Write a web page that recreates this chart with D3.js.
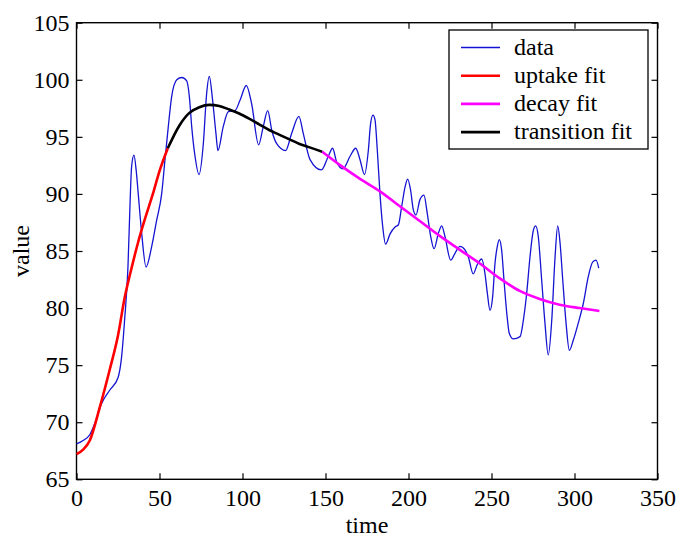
<!DOCTYPE html>
<html>
<head>
<meta charset="utf-8">
<script src="https://cdn.jsdelivr.net/npm/d3@7"></script>
<style>
  body { margin: 0; background: #fff; }
  text { font-family: "Liberation Serif", "Times New Roman", serif; }
</style>
</head>
<body>
<div id="chart"></div>
<script>
const dataTime = [0, 4, 8, 12, 15, 20, 25, 27, 29, 31, 32.2, 33.2, 34.6, 36, 37.2, 39.3, 41.9, 45.3, 48.3, 51.3,
  53.3, 55.3, 57.3, 60.4, 63.4, 66.4, 68, 69.4, 71.4, 73.8, 76.4, 78.4, 80, 82, 84, 85.2, 88.4, 91.5, 95.5, 98.5,
  102.3, 105.5, 109.7, 112.5, 115.2, 117.6, 120.6, 126, 129.6, 134, 136.6, 140.7, 147.5, 151.7, 154.3, 156.7,
  160.5, 164.8, 168.2, 170.8, 173.5, 175.8, 177.2, 178.6, 179.8, 181.2, 182.8, 184.5, 186.2, 188.9, 191.9,
  193.9, 195.9, 197.9, 199.5, 201.3, 202.9, 204.5, 206.9, 209.3, 211.3, 213.4, 215.4, 218, 220, 222, 225.4,
  228, 231, 234, 236, 239, 241.4, 244.1, 246.1, 247.5, 249.1, 250.7, 252.1, 253.5, 254.7, 256.1, 257.5, 259.2,
  260.7, 263.1, 267.2, 269.2, 271.2, 273.2, 275.2, 276.6, 278.2, 280.2, 282.2, 284.2, 286.3, 288.3, 289.9,
  291.3, 292.9, 294.9, 296.9, 299.3, 302.3, 305.3, 308.3, 311, 313, 314.6]
const dataValue = [68.1, 68.4, 68.9, 70.3, 71.6, 72.8, 73.9, 75.5, 79.0, 83.6, 88.9, 92.4, 93.4, 92.0, 90.0, 86.5,
  83.6, 85.4, 87.7, 90.0, 93.0, 95.9, 98.5, 100.0, 100.2, 99.9, 98.5, 95.9, 93.3, 91.7, 94.4, 98.8, 100.3, 98.2,
  95.3, 93.8, 95.9, 97.2, 97.3, 98.2, 99.5, 97.9, 94.3, 95.9, 97.3, 95.6, 94.4, 93.8, 95.3, 96.8, 95.3, 93.0,
  92.1, 93.3, 94.0, 92.8, 92.2, 93.3, 94.0, 93.0, 91.7, 93.8, 96.2, 96.9, 96.5, 93.85, 90.05, 87.1, 85.6, 86.5,
  87.1, 87.3, 88.9, 90.6, 91.3, 90.3, 88.6, 88.15, 89.5, 89.9, 88.3, 86.25, 85.2, 86.55, 87.2, 86.25, 84.2,
  84.8, 85.4, 85.1, 84.5, 83.0, 83.8, 84.3, 83.0, 81.3, 79.8, 81.0, 83.9, 85.4, 86.0, 85.1, 82.5, 79.55, 77.8,
  77.3, 77.5, 78.95, 81.3, 84.5, 86.8, 87.2, 86.25, 82.5, 78.7, 75.9, 78.95, 84.5, 87.2, 85.7, 82.5, 78.7, 76.3,
  77.2, 78.7, 80.4, 82.75, 84.05, 84.2, 83.5]

// fitted curves
const uptakeTime = [0, 4, 8, 14, 20, 25, 29, 33, 37, 41, 46, 50, 55]
const uptakeValue = [67.2, 67.6, 68.4, 71.3, 74.6, 77.6, 80.9, 83.4, 85.7, 87.7, 90.0, 92.0, 94.0]
const transitionTime = [55, 62, 68, 74, 80, 86, 92, 98, 104, 110, 116, 122, 128, 134, 140, 148]
const transitionValue = [94.0, 96.0, 97.1, 97.6, 97.8, 97.7, 97.4, 97.05, 96.6, 96.1, 95.6, 95.2, 94.8, 94.4, 94.1, 93.7]
const decayTime = [148, 159, 171, 183, 195, 207, 219, 231, 243, 255, 267, 279, 291, 303, 315]
const decayValue = [93.7, 92.5, 91.3, 90.2, 88.9, 87.6, 86.3, 85.1, 83.9, 82.6, 81.5, 80.8, 80.3, 80.0, 79.75]

const xTicks = [0, 50, 100, 150, 200, 250, 300, 350]
const yTicks = [65, 70, 75, 80, 85, 90, 95, 100, 105]
const legendLabels = ['data', 'uptake fit', 'decay fit', 'transition fit']
const legendColors = ['#1414d2', '#ff0000', '#ff00ff', '#000000']

const width = 678
const height = 538
const margin = {left: 76.5, right: 20.5, top: 22.7, bottom: 58.7}
const innerW = width - margin.left - margin.right
const innerH = height - margin.top - margin.bottom

const svg = d3.select('#chart')
              .append('svg')
              .attr('width', width)
              .attr('height', height)

svg.append('rect')
   .attr('width', width)
   .attr('height', height)
   .attr('fill', '#fff')

const x = d3.scaleLinear().domain([0, 350]).range([margin.left, margin.left + innerW])
const y = d3.scaleLinear().domain([65, 105]).range([margin.top + innerH, margin.top])

const fontSize = '24px'

// axes with inward ticks, box on
svg.append('g')
   .attr('transform', `translate(0, ${margin.top + innerH})`)
   .call(d3.axisBottom(x).tickValues(xTicks).tickSizeInner(-6).tickSizeOuter(0).tickPadding(10))
   .call(g => g.select('.domain').remove())
   .selectAll('text').style('font-size', fontSize).attr('fill', '#000')

svg.append('g')
   .attr('transform', `translate(${margin.left}, 0)`)
   .call(d3.axisLeft(y).tickValues(yTicks).tickSizeInner(-6).tickSizeOuter(0).tickPadding(7))
   .call(g => g.select('.domain').remove())
   .selectAll('text').style('font-size', fontSize).attr('fill', '#000')

svg.append('g')
   .attr('transform', `translate(0, ${margin.top})`)
   .call(d3.axisTop(x).tickValues(xTicks).tickSizeInner(-6).tickSizeOuter(0).tickFormat(''))
   .call(g => g.select('.domain').remove())

svg.append('g')
   .attr('transform', `translate(${margin.left + innerW}, 0)`)
   .call(d3.axisRight(y).tickValues(yTicks).tickSizeInner(-6).tickSizeOuter(0).tickFormat(''))
   .call(g => g.select('.domain').remove())

svg.selectAll('.tick line').attr('stroke', '#000').attr('stroke-width', 1.2)

svg.append('rect')
   .attr('x', margin.left)
   .attr('y', margin.top)
   .attr('width', innerW)
   .attr('height', innerH)
   .attr('fill', 'none')
   .attr('stroke', '#000')
   .attr('stroke-width', 1.4)

// lines
const line = d3.line()
               .x(d => x(d[0]))
               .y(d => y(d[1]))
               .curve(d3.curveMonotoneX)

const zip = (ts, vs) => ts.map((t, i) => [t, vs[i]])

svg.append('path')
   .attr('d', line(zip(dataTime, dataValue)))
   .attr('fill', 'none')
   .attr('stroke', legendColors[0])
   .attr('stroke-width', 1.3)

svg.append('path')
   .attr('d', line(zip(uptakeTime, uptakeValue)))
   .attr('fill', 'none')
   .attr('stroke', legendColors[1])
   .attr('stroke-width', 2.6)

svg.append('path')
   .attr('d', line(zip(decayTime, decayValue)))
   .attr('fill', 'none')
   .attr('stroke', legendColors[2])
   .attr('stroke-width', 2.6)

svg.append('path')
   .attr('d', line(zip(transitionTime, transitionValue)))
   .attr('fill', 'none')
   .attr('stroke', legendColors[3])
   .attr('stroke-width', 2.6)

// axis titles
svg.append('text')
   .attr('x', (margin.left + margin.left + innerW) / 2)
   .attr('y', 533)
   .attr('text-anchor', 'middle')
   .style('font-size', fontSize)
   .text('time')

svg.append('text')
   .attr('transform', `translate(29, ${margin.top + innerH / 2}) rotate(-90)`)
   .attr('text-anchor', 'middle')
   .style('font-size', fontSize)
   .text('value')

// legend
const legend = svg.append('g').attr('transform', 'translate(449, 30)')

legend.append('rect')
      .attr('width', 199)
      .attr('height', 119)
      .attr('fill', '#fff')
      .attr('stroke', '#000')
      .attr('stroke-width', 1.3)

legendLabels.forEach((label, i) => {
    const cy = 17.5 + i * 28.2
    legend.append('line')
          .attr('x1', 12).attr('x2', 51)
          .attr('y1', cy).attr('y2', cy)
          .attr('stroke', legendColors[i])
          .attr('stroke-width', i === 0 ? 1.3 : 2.6)
    legend.append('text')
          .attr('x', 65)
          .attr('y', cy + 7)
          .style('font-size', fontSize)
          .text(label)
})
</script>
</body>
</html>
